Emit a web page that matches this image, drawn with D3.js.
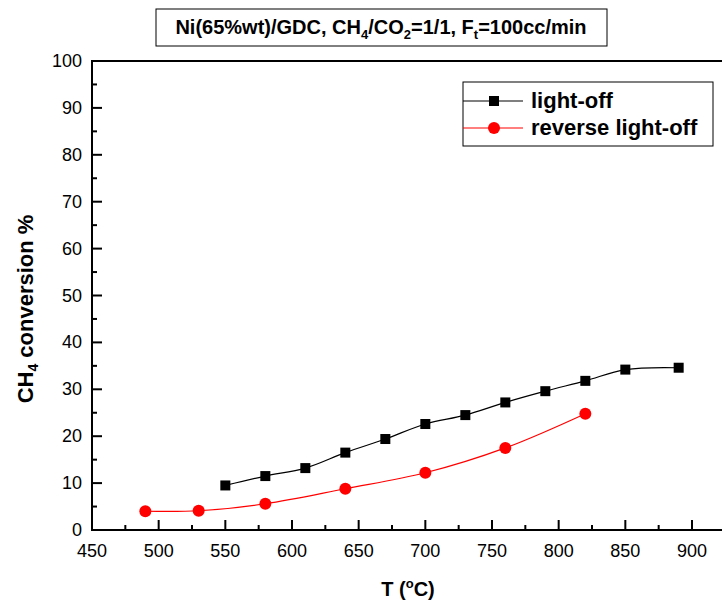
<!DOCTYPE html>
<html>
<head>
<meta charset="utf-8">
<script src="https://cdn.jsdelivr.net/npm/d3@7"></script>
<style>
  body { margin: 0; background: #fff; }
  text { font-family: Arial, "Liberation Sans", sans-serif; }
</style>
</head>
<body>
<svg id="chart" width="722" height="604"></svg>
<script>
// data
var lightT = [550, 580, 610, 640, 670, 700, 730, 760, 790, 820, 850, 890]
var lightConv = [9.5, 11.5, 13.2, 16.5, 19.4, 22.6, 24.5, 27.2, 29.6, 31.8, 34.2, 34.6]
var revT = [490, 530, 580, 640, 700, 760, 820]
var revConv = [4.0, 4.1, 5.6, 8.8, 12.2, 17.5, 24.8]
var xTicks = [450, 500, 550, 600, 650, 700, 750, 800, 850, 900]
var yTicks = [0, 10, 20, 30, 40, 50, 60, 70, 80, 90, 100]

var svg = d3.select("#chart"),
    plotLeft = 92, plotTop = 61, plotBottom = 530

var x = d3.scaleLinear().domain([450, 900]).range([plotLeft, 692])
var y = d3.scaleLinear().domain([0, 100]).range([plotBottom, plotTop])

var g = svg.append("g")

// minor ticks
var xMinor = d3.range(475, 950, 50)
var yMinor = d3.range(5, 100, 10)

g.selectAll(".xmaj").data(xTicks).enter().append("line")
  .attr("x1", d => x(d)).attr("x2", d => x(d))
  .attr("y1", plotBottom).attr("y2", plotBottom - 10)
  .attr("stroke", "#000").attr("stroke-width", 2)
g.selectAll(".xmin").data(xMinor).enter().append("line")
  .attr("x1", d => x(d)).attr("x2", d => x(d))
  .attr("y1", plotBottom).attr("y2", plotBottom - 5)
  .attr("stroke", "#000").attr("stroke-width", 2)
g.selectAll(".ymaj").data(yTicks).enter().append("line")
  .attr("x1", plotLeft).attr("x2", plotLeft + 10)
  .attr("y1", d => y(d)).attr("y2", d => y(d))
  .attr("stroke", "#000").attr("stroke-width", 2)
g.selectAll(".ymin").data(yMinor).enter().append("line")
  .attr("x1", plotLeft).attr("x2", plotLeft + 5)
  .attr("y1", d => y(d)).attr("y2", d => y(d))
  .attr("stroke", "#000").attr("stroke-width", 2)

// frame (right side is cut by the picture edge)
svg.append("path")
  .attr("d", "M722," + plotTop + "H" + plotLeft + "V" + plotBottom + "H722")
  .attr("fill", "none").attr("stroke", "#000").attr("stroke-width", 2)

g.selectAll(".xlab").data(xTicks).enter().append("text")
  .attr("x", d => x(d)).attr("y", 557)
  .attr("text-anchor", "middle").attr("font-size", "18px")
  .text(d => d)
g.selectAll(".ylab").data(yTicks).enter().append("text")
  .attr("x", 82).attr("y", d => y(d) + 6)
  .attr("text-anchor", "end").attr("font-size", "18px")
  .text(d => d)

// series
var line = d3.line().curve(d3.curveCatmullRom.alpha(0.5))
var lightPts = lightT.map((t, i) => [x(t), y(lightConv[i])])
var revPts = revT.map((t, i) => [x(t), y(revConv[i])])

svg.append("path").attr("d", line(lightPts))
  .attr("fill", "none").attr("stroke", "#000").attr("stroke-width", 1.2)
svg.append("path").attr("d", line(revPts))
  .attr("fill", "none").attr("stroke", "#ff0000").attr("stroke-width", 1.2)

svg.selectAll(".sq").data(lightPts).enter().append("rect")
  .attr("x", d => d[0] - 5).attr("y", d => d[1] - 5)
  .attr("width", 10).attr("height", 10).attr("fill", "#000")
svg.selectAll(".ci").data(revPts).enter().append("circle")
  .attr("cx", d => d[0]).attr("cy", d => d[1]).attr("r", 6)
  .attr("fill", "#ff0000")

// title box
svg.append("rect").attr("x", 156).attr("y", 9).attr("width", 451).attr("height", 37)
  .attr("fill", "#fff").attr("stroke", "#000").attr("stroke-width", 1)
var title = svg.append("text").attr("x", 381).attr("y", 34)
  .attr("text-anchor", "middle").attr("font-size", "20px").attr("font-weight", "bold")
title.append("tspan").text("Ni(65%wt)/GDC, CH")
title.append("tspan").attr("font-size", "13px").attr("dy", 5).text("4")
title.append("tspan").attr("dy", -5).text("/CO")
title.append("tspan").attr("font-size", "13px").attr("dy", 5).text("2")
title.append("tspan").attr("dy", -5).text("=1/1, F")
title.append("tspan").attr("font-size", "13px").attr("dy", 5).text("t")
title.append("tspan").attr("dy", -5).text("=100cc/min")

// legend
svg.append("rect").attr("x", 463).attr("y", 82).attr("width", 250).attr("height", 64)
  .attr("fill", "#fff").attr("stroke", "#000").attr("stroke-width", 1)
svg.append("line").attr("x1", 463).attr("x2", 523).attr("y1", 101).attr("y2", 101)
  .attr("stroke", "#000").attr("stroke-width", 1.2)
svg.append("rect").attr("x", 489).attr("y", 96).attr("width", 10).attr("height", 10).attr("fill", "#000")
svg.append("line").attr("x1", 463).attr("x2", 523).attr("y1", 128).attr("y2", 128)
  .attr("stroke", "#ff0000").attr("stroke-width", 1.2)
svg.append("circle").attr("cx", 494).attr("cy", 128).attr("r", 6).attr("fill", "#ff0000")
svg.append("text").attr("x", 531).attr("y", 108).attr("font-size", "22px")
  .attr("font-weight", "bold").text("light-off")
svg.append("text").attr("x", 531).attr("y", 135).attr("font-size", "22px")
  .attr("font-weight", "bold").text("reverse light-off")

// axis titles
var xt = svg.append("text").attr("x", 408).attr("y", 596)
  .attr("text-anchor", "middle").attr("font-size", "20px").attr("font-weight", "bold")
xt.append("tspan").text("T (")
xt.append("tspan").attr("font-size", "13px").attr("dy", -8).text("o")
xt.append("tspan").attr("dy", 8).text("C)")

var yt = svg.append("text").attr("transform", "translate(33,309) rotate(-90)")
  .attr("text-anchor", "middle").attr("font-size", "22px").attr("font-weight", "bold")
yt.append("tspan").text("CH")
yt.append("tspan").attr("font-size", "14px").attr("dy", 5).text("4")
yt.append("tspan").attr("dy", -5).text(" conversion %")
</script>
</body>
</html>
